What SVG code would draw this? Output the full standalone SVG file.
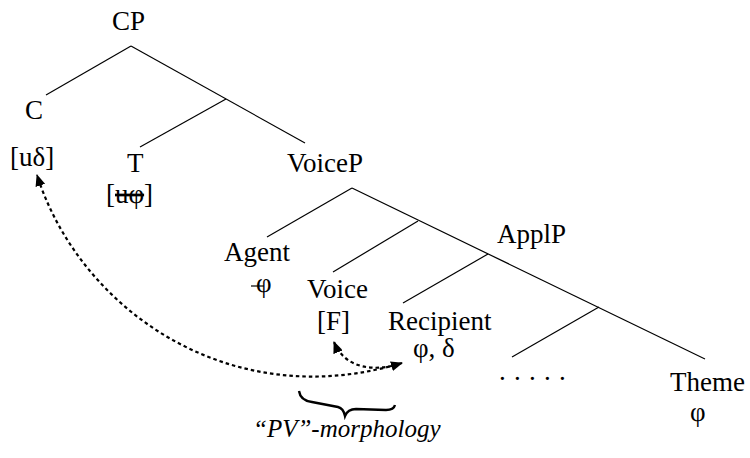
<svg xmlns="http://www.w3.org/2000/svg" width="750" height="458" viewBox="0 0 750 458">
<style>
text{font-family:"Liberation Serif","DejaVu Serif",serif;font-size:27px;fill:#000}
.it{font-style:italic;font-size:25px}
.br{fill:none;stroke:#000;stroke-width:1.2}
.dot{fill:none;stroke:#000;stroke-width:2.2;stroke-dasharray:3.5 3}
.strike{stroke:#000;stroke-width:1.2}
</style>
<defs>
<marker id="ah" viewBox="0 0 12 10" refX="11" refY="5" markerWidth="12" markerHeight="10" markerUnits="userSpaceOnUse" orient="auto-start-reverse">
<path d="M0,0 L12,5 L0,10 Z" fill="#000"/>
</marker>
</defs>
<g id="connectors">
<line class="br" x1="131" y1="46" x2="46" y2="95"/>
<line class="br" x1="131" y1="46" x2="305" y2="143"/>
<line class="br" x1="226" y1="99" x2="140" y2="147"/>
<line class="br" x1="352" y1="188" x2="267" y2="237"/>
<line class="br" x1="352" y1="188" x2="705" y2="359"/>
<line class="br" x1="418" y1="221" x2="333" y2="272"/>
<line class="br" x1="488" y1="254" x2="403" y2="303"/>
<line class="br" x1="599" y1="307" x2="512" y2="357"/>
<path class="dot" d="M402,363 C230,415 80,310 37,175" marker-start="url(#ah)" marker-end="url(#ah)"/>
<path class="dot" d="M392,366 C362,372 342,362 334,342" marker-end="url(#ah)"/>
</g>
<g id="CP"><text x="112" y="30">CP</text></g>
<g id="C"><text x="25" y="119">C</text><text x="10" y="166">[uδ]</text></g>
<g id="T"><text x="127" y="172">T</text><text x="106" y="203">[<tspan text-decoration="line-through">uφ</tspan>]</text></g>
<g id="VoiceP"><text x="287" y="172">VoiceP</text></g>
<g id="Agent"><text x="224" y="261">Agent</text><text x="256" y="292">φ</text><line class="strike" x1="251" y1="286" x2="264" y2="286"/></g>
<g id="Voice"><text x="307" y="298">Voice</text><text x="317" y="330">[F]</text></g>
<g id="ApplP"><text x="497" y="243">ApplP</text></g>
<g id="Recipient"><text x="388" y="330">Recipient</text><text x="413" y="357">φ, δ</text></g>
<g id="dots"><text x="499" y="380" letter-spacing="8.25">.....</text></g>
<g id="Theme"><text x="670" y="391">Theme</text><text x="690" y="421">φ</text></g>
<g id="brace">
<path d="M299,391 C300,398 304,401 312,402 L338,407 C342,408 344,411 345,416 C347,411 350,409 356,409 L386,410 C391,410 394,409 395,405" fill="none" stroke="#000" stroke-width="2.4"/>
<text class="it" x="253" y="437">“PV”-morphology</text>
</g>
</svg>
